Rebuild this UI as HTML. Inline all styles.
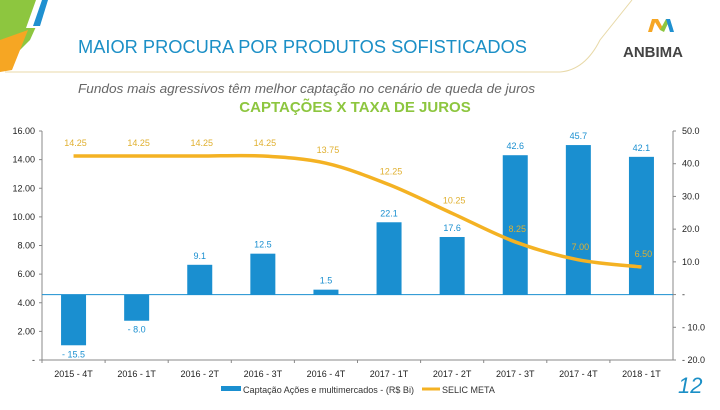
<!DOCTYPE html>
<html><head><meta charset="utf-8"><style>
body{margin:0;width:720px;height:405px;background:#fff;overflow:hidden;font-family:"Liberation Sans",sans-serif}
svg text{font-family:"Liberation Sans",sans-serif}
</style></head><body>
<svg width="720" height="405">
<g>
<polygon points="0,0 48,0 30,40 0,70" fill="#8dc63f"/>
<polygon points="36,0 48,0 36,28 26,28" fill="#fff"/>
<polygon points="42,0 48,0 40,26 33,26" fill="#1f90d0"/>
<polygon points="0,40 28,30 12,70 0,72" fill="#f6a623"/>
<path d="M5,72 L560,72 Q585,70 600,40 L632,0" fill="none" stroke="#e8d9a8" stroke-width="1"/>
</g>
<text x="78" y="53" font-size="18" textLength="449" lengthAdjust="spacingAndGlyphs" fill="#1b8fc6">MAIOR PROCURA POR PRODUTOS SOFISTICADOS</text>
<g>
<polygon points="648,32 652,19 656,19 652,32" fill="#f6a623"/>
<polygon points="653,19 658,19 664,30 660,30" fill="#f6a623"/>
<polygon points="660,30 666,19 670,19 664,32" fill="#8dc63f"/>
<polygon points="666,19 670,19 674,32 670,32" fill="#1f90d0"/>
<text x="623" y="57" font-size="15" font-weight="bold" fill="#444">ANBIMA</text>
</g>
<text x="78" y="93" font-size="13" font-style="italic" fill="#666" textLength="457" lengthAdjust="spacingAndGlyphs">Fundos mais agressivos têm melhor captação no cenário de queda de juros</text>
<text x="355" y="112" font-size="15" font-weight="bold" fill="#8dc63f" text-anchor="middle">CAPTAÇÕES X TAXA DE JUROS</text>
<g id="chart"></g>
<g>
<rect x="221" y="386" width="20" height="5" fill="#1a8fd0"/>
<text x="243" y="393" font-size="9" textLength="171" lengthAdjust="spacingAndGlyphs" fill="#333">Captação Ações e multimercados - (R$ Bi)</text>
<line x1="422" y1="389" x2="440" y2="389" stroke="#f4b223" stroke-width="3"/>
<text x="442" y="393" font-size="9" fill="#333">SELIC META</text>
</g>
<text x="678" y="393" font-size="22" font-style="italic" fill="#1b8fc6">12</text>
</svg>
<script>
const categories=["2015 - 4T","2016 - 1T","2016 - 2T","2016 - 3T","2016 - 4T","2017 - 1T","2017 - 2T","2017 - 3T","2017 - 4T","2018 - 1T"];
const captacao=[-15.5,-8.0,9.1,12.5,1.5,22.1,17.6,42.6,45.7,42.1];
const selic=[14.25,14.25,14.25,14.25,13.75,12.25,10.25,8.25,7.00,6.50];
const leftTicks=[0,2,4,6,8,10,12,14,16];
const rightTicks=[-20,-10,0,10,20,30,40,50];

const NS="http://www.w3.org/2000/svg";
const g=document.getElementById('chart');
const X0=42,X1=673,YT=131,YB=360;
const step=(X1-X0)/categories.length;
const xc=i=>X0+step*(i+0.5);
const yL=v=>YB-(v/16)*(YB-YT);
const yR=v=>YB-((v+20)/70)*(YB-YT);
function mk(t,a,p){const e=document.createElementNS(NS,t);for(const k in a)e.setAttribute(k,a[k]);(p||g).appendChild(e);return e;}
let e=mk('line',{x1:X0,y1:YT,x2:X0,y2:YB,stroke:'#888'});


e=mk('line',{x1:X1,y1:YT,x2:X1,y2:YB,stroke:'#888'});


e=mk('line',{x1:X0,y1:YB,x2:X1,y2:YB,stroke:'#888'});


leftTicks.forEach(v=>{
  mk('line',{x1:X0-3,y1:yL(v),x2:X0,y2:yL(v),stroke:'#888'});
  const t=mk('text',{x:X0-7,y:yL(v)+3,'font-size':9,'text-anchor':'end',fill:'#222'});
  t.textContent=v===0?'-':v.toFixed(2);
  
  
});
rightTicks.forEach(v=>{
  mk('line',{x1:X1,y1:yR(v),x2:X1+3,y2:yR(v),stroke:'#888'});
  const t=mk('text',{x:X1+9,y:yR(v)+3,'font-size':9,fill:'#222'});
  t.textContent=v===0?'-':(v<0?'- '+Math.abs(v).toFixed(1):v.toFixed(1));
  
  
});
categories.forEach((c,i)=>{
  mk('line',{x1:X0+step*i,y1:YB,x2:X0+step*i,y2:YB+3,stroke:'#888'});
  const t=mk('text',{x:xc(i),y:YB+17,'font-size':9,'text-anchor':'middle',fill:'#222'});
  t.textContent=c;
  
  
});
e=mk('line',{x1:X0,y1:yR(0),x2:X1,y2:yR(0),stroke:'#1a8fd0','stroke-width':1});


captacao.forEach((v,i)=>{
  const y0=yR(0),y1=yR(v);
  const r=mk('rect',{x:xc(i)-12.5,y:Math.min(y0,y1),width:25,height:Math.abs(y1-y0),fill:'#1a8fd0'});
  
  
  const t=mk('text',{x:xc(i),y:v<0?y1+12:y1-6,'font-size':9,'text-anchor':'middle',fill:'#1a8fd0'});
  t.textContent=v<0?'- '+Math.abs(v).toFixed(1):v.toFixed(1);
  
  
});
const pts=selic.map((v,i)=>[xc(i),yL(v)]);
let d='M'+pts[0][0]+','+pts[0][1];
for(let i=0;i<pts.length-1;i++){
  const p0=pts[i-1]||pts[i],p1=pts[i],p2=pts[i+1],p3=pts[i+2]||p2;
  const c1=[p1[0]+(p2[0]-p0[0])/6,p1[1]+(p2[1]-p0[1])/6];
  const c2=[p2[0]-(p3[0]-p1[0])/6,p2[1]-(p3[1]-p1[1])/6];
  d+=' C'+c1+' '+c2+' '+p2;
}
e=mk('path',{d:d,fill:'none',stroke:'#f4b223','stroke-width':3.5});


selic.forEach((v,i)=>{
  const t=mk('text',{x:xc(i)+2,y:yL(v)-10,'font-size':9,'text-anchor':'middle',fill:'#e0b030'});
  t.textContent=v.toFixed(2);
  
  
});
</script>
</body></html>
